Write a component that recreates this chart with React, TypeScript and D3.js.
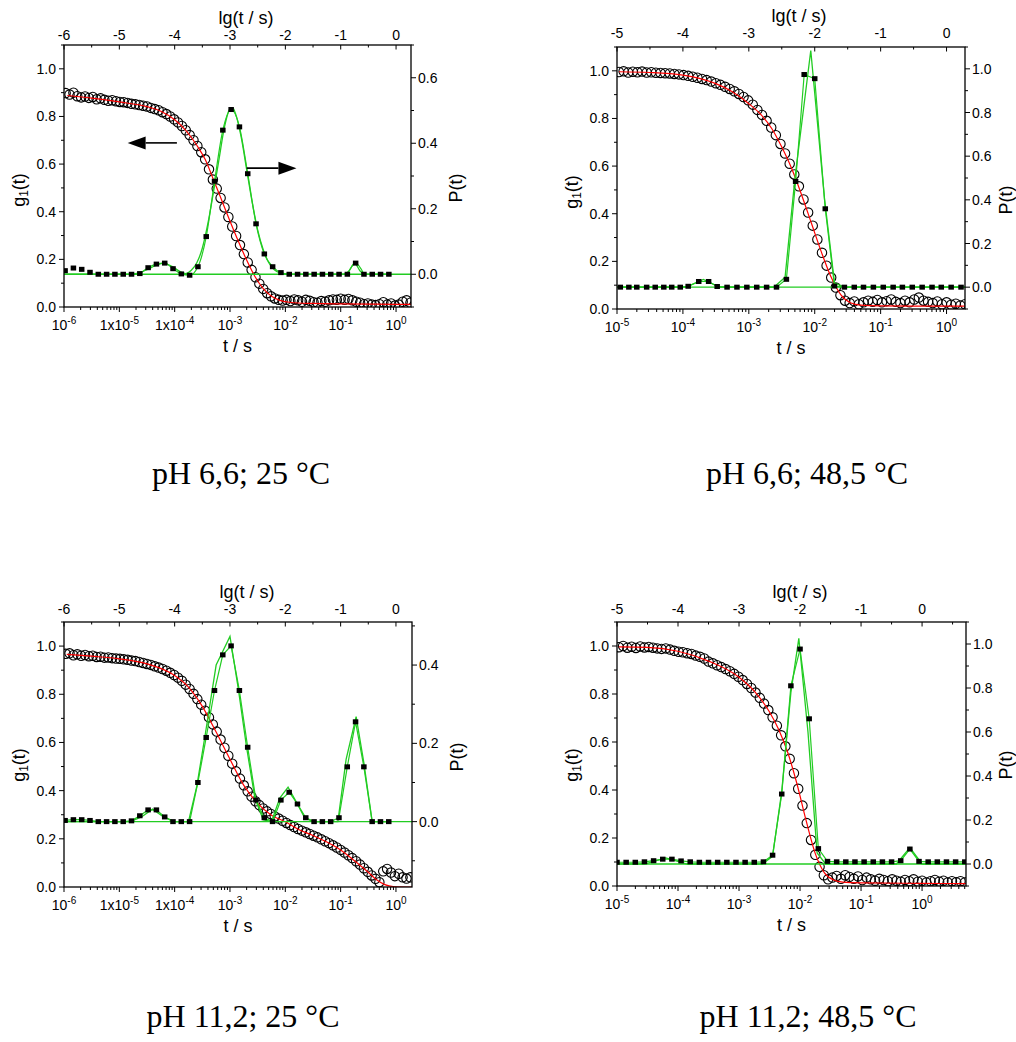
import React from "react";
import * as d3 from "d3";

// ---------- correlator channel times, lg(t / s) ----------
const LG_25 = [-5.97,-5.90,-5.83,-5.76,-5.69,-5.62,-5.55,-5.48,-5.41,-5.34,-5.27,-5.20,-5.13,-5.06,-4.99,-4.92,-4.85,-4.78,-4.71,-4.64,-4.57,-4.50,-4.43,-4.36,-4.29,-4.22,-4.15,-4.08,-4.01,-3.94,-3.87,-3.80,-3.73,-3.66,-3.59,-3.52,-3.45,-3.38,-3.31,-3.24,-3.17,-3.10,-3.03,-2.96,-2.89,-2.82,-2.75,-2.68,-2.61,-2.54,-2.47,-2.40,-2.33,-2.26,-2.19,-2.12,-2.05,-1.98,-1.91,-1.84,-1.77,-1.70,-1.63,-1.56,-1.49,-1.42,-1.35,-1.28,-1.21,-1.14,-1.07,-1.00,-0.93,-0.86,-0.79,-0.72,-0.65,-0.58,-0.51,-0.44,-0.37,-0.30,-0.23,-0.16,-0.09,-0.02,0.05,0.12,0.19,0.26];
const LG_48 = [-4.97,-4.90,-4.83,-4.76,-4.69,-4.62,-4.55,-4.48,-4.41,-4.34,-4.27,-4.20,-4.13,-4.06,-3.99,-3.92,-3.85,-3.78,-3.71,-3.64,-3.57,-3.50,-3.43,-3.36,-3.29,-3.22,-3.15,-3.08,-3.01,-2.94,-2.87,-2.80,-2.73,-2.66,-2.59,-2.52,-2.45,-2.38,-2.31,-2.24,-2.17,-2.10,-2.03,-1.96,-1.89,-1.82,-1.75,-1.68,-1.61,-1.54,-1.47,-1.40,-1.33,-1.26,-1.19,-1.12,-1.05,-0.98,-0.91,-0.84,-0.77,-0.70,-0.63,-0.56,-0.49,-0.42,-0.35,-0.28,-0.21,-0.14,-0.07,0.00,0.07,0.14,0.21,0.28,0.35,0.42,0.49,0.56,0.63,0.70];

// ---------- g1(t) data (open circles) ----------
const G1_P1 = [.898,.892,.900,.885,.880,.884,.878,.882,.872,.876,.870,.866,.868,.864,.861,.860,.857,.853,.851,.848,.845,.842,.836,.831,.826,.818,.810,.800,.788,.775,.760,.742,.722,.700,.676,.650,.620,.578,.535,.497,.458,.418,.378,.338,.298,.260,.222,.187,.156,.125,.098,.076,.058,.045,.036,.030,.027,.030,.025,.032,.028,.022,.030,.026,.020,.018,.025,.022,.028,.032,.030,.035,.030,.034,.028,.022,.018,.012,.015,.010,.008,.012,.020,.010,.015,.006,.010,.022,.028,.018];
const G1_P2 = [.995,.998,.993,.996,.994,.997,.993,.994,.992,.991,.990,.989,.987,.985,.982,.979,.975,.971,.966,.961,.955,.948,.941,.933,.924,.914,.903,.890,.876,.858,.836,.815,.790,.762,.730,.693,.653,.610,.565,.515,.460,.405,.350,.292,.236,.182,.132,.090,.058,.035,.025,.032,.020,.028,.035,.030,.038,.028,.033,.040,.030,.025,.035,.028,.040,.048,.035,.030,.025,.032,.020,.028,.018,.022,.015,.020];
const G1_P3 = [.968,.970,.962,.966,.960,.963,.958,.960,.955,.956,.952,.953,.950,.948,.947,.945,.943,.940,.938,.934,.930,.926,.922,.916,.911,.905,.898,.889,.880,.869,.856,.840,.822,.802,.780,.757,.732,.704,.675,.645,.612,.578,.545,.512,.480,.450,.422,.397,.375,.356,.340,.326,.314,.303,.293,.284,.275,.266,.257,.249,.241,.234,.227,.220,.213,.206,.198,.190,.182,.173,.164,.154,.143,.132,.120,.107,.093,.078,.063,.048,.034,.020,.065,.075,.060,.045,.055,.040,.035,.040];
const G1_P4 = [.995,1.000,.993,.997,.992,.998,.994,.996,.993,.990,.988,.990,.985,.980,.976,.974,.970,.967,.960,.955,.948,.935,.928,.920,.912,.904,.895,.884,.872,.858,.842,.825,.806,.784,.760,.733,.703,.668,.628,.582,.530,.470,.405,.335,.262,.192,.130,.080,.045,.028,.035,.042,.030,.045,.038,.030,.040,.025,.035,.028,.022,.030,.025,.020,.028,.022,.018,.025,.020,.028,.018,.022,.015,.020,.025,.018,.022,.015,.020,.016,.020,.015];

// ---------- g1 fits (red) [lg t, g1] ----------
const FIT_P1: [number, number][] = [[-5.94,.888],[-5.5,.877],[-5.0,.861],[-4.5,.841],[-4.25,.822],[-4.0,.786],[-3.8,.742],[-3.6,.679],[-3.45,.62],[-3.3,.535],[-3.15,.448],[-3.0,.36],[-2.85,.276],[-2.7,.197],[-2.55,.128],[-2.4,.077],[-2.25,.045],[-2.1,.028],[-1.9,.019],[-1.5,.015],[-1.0,.013],[-0.5,.012],[0.0,.011],[0.27,.011]];
const FIT_P2: [number, number][] = [[-4.97,.996],[-4.5,.993],[-4.0,.982],[-3.75,.968],[-3.5,.946],[-3.25,.912],[-3.0,.862],[-2.83,.82],[-2.65,.757],[-2.5,.68],[-2.35,.59],[-2.2,.48],[-2.05,.36],[-1.9,.24],[-1.75,.133],[-1.6,.058],[-1.45,.025],[-1.3,.016],[-1.0,.013],[-0.5,.012],[0.0,.012],[0.28,.012]];
const FIT_P3: [number, number][] = [[-5.95,.966],[-5.5,.958],[-5.0,.947],[-4.5,.926],[-4.0,.878],[-3.75,.83],[-3.5,.75],[-3.25,.643],[-3.0,.53],[-2.75,.422],[-2.5,.347],[-2.25,.298],[-2.0,.271],[-1.75,.238],[-1.5,.214],[-1.25,.187],[-1.0,.154],[-0.75,.109],[-0.5,.061],[-0.35,.03],[-0.2,.01],[-0.05,.002],[0.29,0]];
const FIT_P4: [number, number][] = [[-4.97,.996],[-4.5,.994],[-4.0,.978],[-3.5,.937],[-3.0,.87],[-2.75,.812],[-2.5,.725],[-2.35,.652],[-2.2,.555],[-2.05,.425],[-1.9,.272],[-1.75,.135],[-1.6,.055],[-1.45,.025],[-1.3,.016],[-1.0,.013],[0.0,.011],[0.72,.01]];

// ---------- P(t) distributions (black squares) ----------
const P_GRID_25 = [-5.98,-5.83,-5.68,-5.53,-5.38,-5.23,-5.08,-4.93,-4.78,-4.63,-4.48,-4.33,-4.18,-4.03,-3.88,-3.73,-3.58,-3.43,-3.28,-3.13,-2.98,-2.83,-2.68,-2.53,-2.38,-2.23,-2.08,-1.93,-1.78,-1.63,-1.48,-1.33,-1.18,-1.03,-0.88,-0.73,-0.58,-0.43,-0.28,-0.13];
const P_P1 = [.011,.019,.015,.006,0,0,0,0,0,.002,.020,.031,.034,.017,.001,-.003,.023,.115,.284,.440,.503,.450,.307,.154,.062,.023,.005,0,0,0,0,0,0,0,0,.034,0,0,0,0];
const P_P3 = [.003,.005,.005,.003,0,0,0,0,.002,.015,.030,.030,.012,0,0,0,.100,.215,.335,.426,.449,.335,.190,.055,.010,0,.055,.075,.045,.010,0,0,0,.010,.140,.255,.140,0,0,0];
const P_GRID_P2 = [-4.95,-4.82,-4.70,-4.55,-4.42,-4.29,-4.17,-4.04,-3.92,-3.76,-3.61,-3.48,-3.33,-3.18,-3.03,-2.88,-2.73,-2.58,-2.43,-2.29,-2.16,-2.00,-1.84,-1.70,-1.55,-1.40,-1.26,-1.11,-0.96,-0.81,-0.67,-0.52,-0.37,-0.22,-0.08,0.07,0.22];
const P_P2 = [0,0,0,0,0,0,0,0,.004,.026,.026,.003,0,0,0,0,0,0,.036,.484,.974,.955,.359,.005,0,0,0,0,0,0,0,0,0,0,0,0,0];
const P_GRID_P4 = [-5.00,-4.85,-4.70,-4.55,-4.40,-4.25,-4.10,-3.95,-3.80,-3.65,-3.50,-3.35,-3.20,-3.05,-2.90,-2.75,-2.60,-2.45,-2.30,-2.15,-2.00,-1.85,-1.70,-1.55,-1.40,-1.25,-1.10,-0.95,-0.80,-0.65,-0.50,-0.35,-0.20,-0.05,0.10,0.25,0.40,0.55,0.70];
const P_P4 = [.008,.008,.008,.010,.015,.022,.022,.014,.010,.008,.008,.008,.008,.008,.008,.008,.010,.040,.318,.810,.977,.660,.070,.012,.010,.010,.010,.010,.010,.010,.010,.015,.068,.012,.010,.010,.010,.010,.010];

// ---------- P(t) fits (green) [lg t, P] ----------
const PFIT_P1: [number, number][] = [[-6,0],[-4.8,0],[-4.65,.004],[-4.5,.014],[-4.35,.026],[-4.2,.034],[-4.05,.024],[-3.9,.008],[-3.8,.002],[-3.7,.012],[-3.6,.035],[-3.5,.08],[-3.4,.155],[-3.3,.25],[-3.2,.35],[-3.1,.45],[-3.0,.505],[-2.95,.508],[-2.9,.49],[-2.8,.42],[-2.7,.32],[-2.6,.22],[-2.5,.135],[-2.4,.075],[-2.3,.035],[-2.2,.014],[-2.1,.004],[-2.0,0],[-0.95,0],[-0.85,.01],[-0.75,.034],[-0.65,.01],[-0.55,0],[-0.13,0]];
const PFIT_P2: [number, number][] = [[-5,0],[-3.95,0],[-3.69,.035],[-3.45,0],[-2.62,0],[-2.45,.045],[-2.3,.5],[-2.06,1.084],[-1.85,.4],[-1.7,.02],[-1.55,0],[0.28,0]];
const PFIT_P3: [number, number][] = [[-6,0],[-4.8,0],[-4.6,.012],[-4.4,.032],[-4.2,.012],[-4.0,0],[-3.75,0],[-3.6,.09],[-3.45,.22],[-3.25,.40],[-3.0,.473],[-2.85,.34],[-2.7,.19],[-2.55,.06],[-2.4,.005],[-2.25,0],[-2.1,.06],[-1.95,.088],[-1.8,.05],[-1.65,.01],[-1.5,0],[-1.05,0],[-0.9,.16],[-0.72,.268],[-0.58,.15],[-0.43,0],[-0.13,0]];
const PFIT_P4: [number, number][] = [[-5,0],[-4.55,0],[-4.2,.028],[-3.85,0],[-2.62,0],[-2.45,.035],[-2.3,.33],[-2.15,.78],[-2.02,1.026],[-1.87,.6],[-1.72,.05],[-1.58,0],[-0.42,0],[-0.2,.075],[0.0,0],[0.72,0]];

// ---------- axes ----------
const LEFT_TICKS = [0, 0.2, 0.4, 0.6, 0.8, 1.0];
const RIGHT_TICKS_P1 = [0, 0.2, 0.4, 0.6];
const RIGHT_TICKS_P3 = [0, 0.2, 0.4];
const RIGHT_TICKS_48 = [0, 0.2, 0.4, 0.6, 0.8, 1.0];
const TOP_TICKS_25 = [-6, -5, -4, -3, -2, -1, 0];
const TOP_TICKS_48 = [-5, -4, -3, -2, -1, 0];
const BOTTOM_25: [number, string][] = [[-6, ""], [-5, "1x"], [-4, "1x"], [-3, ""], [-2, ""], [-1, ""], [0, ""]];
const BOTTOM_48: [number, string][] = [[-5, ""], [-4, ""], [-3, ""], [-2, ""], [-1, ""], [0, ""]];
const CAPTIONS = ["pH 6,6; 25 °C", "pH 6,6; 48,5 °C", "pH 11,2; 25 °C", "pH 11,2; 48,5 °C"];
const ARROWS_P1: [[number, number], [number, number]][] = [[[-3.96, 0.689], [-4.85, 0.689]], [[-2.70, 0.583], [-1.80, 0.583]]];

const SANS = "'Liberation Sans', Arial, sans-serif";
const SERIF = "'Liberation Serif', 'Times New Roman', serif";
const GREEN = "#22cc22";

type Cfg = {
  id: string; left: number; right: number; top: number; bottom: number;
  xDomain: [number, number]; yR: [number, number]; rightTicks: number[];
  topTicks: number[]; bottomLabels: [number, string][];
  lg: number[]; g1: number[]; fit: [number, number][];
  pLg: number[]; p: number[]; pFit: [number, number][]; smooth: boolean;
  links: [number, number][];
  topLab: number; titleY: number; titleX: number; g1X: number; g1Y: number; pX: number; pY: number;
  caption: string; capX: number; capY: number; arrows?: [[number, number], [number, number]][];
};

function Panel({ c }: { c: Cfg }) {
  const x = d3.scaleLinear().domain(c.xDomain).range([c.left, c.right]);
  const yL = d3.scaleLinear().domain([0, 1.1]).range([c.bottom, c.top]);
  const yR = d3.scaleLinear().domain(c.yR).range([c.bottom, c.top]);
  const [x0, x1] = c.xDomain;
  const logTicks: { v: number; major: boolean }[] = [];
  for (let d = Math.floor(x0); d <= Math.ceil(x1); d++) {
    for (let k = 1; k <= 9; k++) {
      const v = d + Math.log10(k);
      if (v >= x0 - 1e-9 && v <= x1 + 1e-9) logTicks.push({ v, major: k === 1 });
    }
  }
  const topMinor = d3.range(Math.ceil(x0 * 2) / 2, x1 + 1e-9, 0.5);
  const leftMinor = d3.range(0, 1.1 + 1e-9, 0.1);
  const rStep = 0.1;
  const rightMinor = d3.range(Math.ceil(c.yR[0] / rStep - 1e-9) * rStep, c.yR[1] + 1e-9, rStep);

  const fitLine = d3.line<[number, number]>().x(d => x(d[0])).y(d => yL(d[1])).curve(d3.curveMonotoneX);
  const pFitLine = d3.line<[number, number]>().x(d => x(d[0])).y(d => yR(d[1]))
    .curve(c.smooth ? d3.curveMonotoneX : d3.curveLinear);
  const squares: [number, number][] = c.pLg.map((l, i) => [l, c.p[i]]);
  const circles = c.lg.slice(0, c.g1.length).map((l, i) => [l, c.g1[i]]);
  const clip = `clip-${c.id}`;
  const W = 5.5, H = 5;
  const lab = { fontFamily: SANS, fontSize: 14, fill: "#000" } as const;
  const ttl = { fontFamily: SANS, fontSize: 18, fill: "#000" } as const;

  return (
    <g>
      <defs>
        <clipPath id={clip}>
          <rect x={c.left} y={c.top} width={c.right - c.left} height={c.bottom - c.top} />
        </clipPath>
      </defs>
      <g clipPath={`url(#${clip})`}>
        {circles.map((d, i) => (
          <circle key={i} cx={x(d[0])} cy={yL(d[1])} r={4.7} fill="none" stroke="#000" strokeWidth={1.1} />
        ))}
        <path d={fitLine(c.fit) || ""} fill="none" stroke="#ff0000" strokeWidth={1.2} />
        <line x1={c.left} x2={c.right} y1={yR(0)} y2={yR(0)} stroke={GREEN} strokeWidth={1.3} />
        <path d={pFitLine(c.pFit) || ""} fill="none" stroke={GREEN} strokeWidth={1.3} />
        {c.links.map(([a, b], i) => (
          <path key={i} d={pFitLine(squares.slice(a, b + 1)) || ""} fill="none" stroke={GREEN} strokeWidth={1.2} />
        ))}
        {squares.map((d, i) => (
          <rect key={i} x={x(d[0]) - W / 2} y={yR(d[1]) - H / 2} width={W} height={H} fill="#000" />
        ))}
      </g>
      {(c.arrows || []).map(([from, to], i) => {
        const fx = x(from[0]), fy = yL(from[1]), tx = x(to[0]), ty = yL(to[1]);
        const dir = Math.sign(tx - fx);
        const hl = 18, hw = 6.5;
        return (
          <g key={i}>
            <line x1={fx} y1={fy} x2={tx - dir * hl} y2={ty} stroke="#000" strokeWidth={1.6} />
            <polygon points={`${tx},${ty} ${tx - dir * hl},${ty - hw} ${tx - dir * hl},${ty + hw}`} fill="#000" />
          </g>
        );
      })}
      {/* frame */}
      <rect x={c.left} y={c.top} width={c.right - c.left} height={c.bottom - c.top} fill="none" stroke="#000" strokeWidth={1.3} />
      {/* bottom axis */}
      {logTicks.map((t, i) => (
        <line key={i} x1={x(t.v)} x2={x(t.v)} y1={c.bottom} y2={c.bottom + (t.major ? 5 : 3)} stroke="#000" strokeWidth={1} />
      ))}
      {c.bottomLabels.map(([e, pre], i) => (
        <text key={i} x={x(e)} y={c.bottom + 23} textAnchor="middle" {...lab}>
          {pre}10<tspan fontSize={10} dy={-6}>{String(e)}</tspan>
        </text>
      ))}
      <text x={(c.left + c.right) / 2} y={c.bottom + 45} textAnchor="middle" {...ttl}>t / s</text>
      {/* top axis */}
      {topMinor.map((v, i) => {
        const major = Math.abs(v - Math.round(v)) < 1e-6;
        return <line key={i} x1={x(v)} x2={x(v)} y1={c.top} y2={c.top + (major ? 4.5 : 2.5)} stroke="#000" strokeWidth={1} />;
      })}
      {c.topTicks.map((v, i) => (
        <text key={i} x={x(v)} y={c.topLab} textAnchor="middle" {...lab}>{String(v)}</text>
      ))}
      <text x={c.titleX} y={c.titleY} textAnchor="middle" {...ttl}>lg(t / s)</text>
      {/* left axis */}
      {leftMinor.map((v, i) => {
        const major = Math.abs(v * 5 - Math.round(v * 5)) < 1e-6;
        return <line key={i} x1={c.left - (major ? 5 : 3)} x2={c.left} y1={yL(v)} y2={yL(v)} stroke="#000" strokeWidth={1} />;
      })}
      {LEFT_TICKS.map((v, i) => (
        <text key={i} x={c.left - 8} y={yL(v) + 5} textAnchor="end" {...lab}>{v.toFixed(1)}</text>
      ))}
      <text transform={`translate(${c.g1X},${c.g1Y}) rotate(-90)`} textAnchor="middle" {...ttl}>
        g<tspan fontSize={12} dy={3}>1</tspan><tspan dy={-3}>(t)</tspan>
      </text>
      {/* right axis */}
      {rightMinor.map((v, i) => {
        const major = Math.abs(v * 5 - Math.round(v * 5)) < 1e-6;
        return <line key={i} x1={c.right} x2={c.right + (major ? 5 : 3)} y1={yR(v)} y2={yR(v)} stroke="#000" strokeWidth={1} />;
      })}
      {c.rightTicks.map((v, i) => (
        <text key={i} x={c.right + 7} y={yR(v) + 5} textAnchor="start" {...lab}>{v.toFixed(1)}</text>
      ))}
      <text transform={`translate(${c.pX},${c.pY}) rotate(-90)`} textAnchor="middle" {...ttl}>P(t)</text>
      {/* caption */}
      <text x={c.capX} y={c.capY} textAnchor="middle" fontFamily={SERIF} fontSize={32} fill="#000">{c.caption}</text>
    </g>
  );
}

const PANELS: Cfg[] = [
  {
    id: "a", left: 64, right: 411, top: 45, bottom: 307, xDomain: [-6, 0.27], yR: [-0.1, 0.7], rightTicks: RIGHT_TICKS_P1,
    topTicks: TOP_TICKS_25, bottomLabels: BOTTOM_25, lg: LG_25, g1: G1_P1, fit: FIT_P1,
    pLg: P_GRID_25, p: P_P1, pFit: PFIT_P1, smooth: true, links: [[9, 27], [34, 36]],
    topLab: 40, titleY: 24, titleX: 246, g1X: 25, g1Y: 190, pX: 462, pY: 188,
    caption: CAPTIONS[0], capX: 241, capY: 484, arrows: ARROWS_P1,
  },
  {
    id: "b", left: 617, right: 965, top: 47, bottom: 309, xDomain: [-5, 0.28], yR: [-0.1, 1.1], rightTicks: RIGHT_TICKS_48,
    topTicks: TOP_TICKS_48, bottomLabels: BOTTOM_48, lg: LG_48, g1: G1_P2, fit: FIT_P2,
    pLg: P_GRID_P2, p: P_P2, pFit: PFIT_P2, smooth: false, links: [[0, 36]],
    topLab: 38, titleY: 22, titleX: 799, g1X: 578, g1Y: 192, pX: 1012, pY: 200,
    caption: CAPTIONS[1], capX: 807, capY: 484,
  },
  {
    id: "c", left: 64, right: 412, top: 622, bottom: 887, xDomain: [-6, 0.29], yR: [-0.167, 0.51], rightTicks: RIGHT_TICKS_P3,
    topTicks: TOP_TICKS_25, bottomLabels: BOTTOM_25, lg: LG_25, g1: G1_P3, fit: FIT_P3,
    pLg: P_GRID_25, p: P_P3, pFit: PFIT_P3, smooth: false, links: [[0, 39]],
    topLab: 614, titleY: 598, titleX: 247, g1X: 25, g1Y: 765, pX: 463, pY: 757,
    caption: CAPTIONS[2], capX: 243, capY: 1027,
  },
  {
    id: "d", left: 617, right: 966, top: 622, bottom: 886, xDomain: [-5, 0.72], yR: [-0.1, 1.1], rightTicks: RIGHT_TICKS_48,
    topTicks: TOP_TICKS_48, bottomLabels: BOTTOM_48, lg: LG_48, g1: G1_P4, fit: FIT_P4,
    pLg: P_GRID_P4, p: P_P4, pFit: PFIT_P4, smooth: false, links: [[0, 38]],
    topLab: 614, titleY: 598, titleX: 800, g1X: 578, g1Y: 765, pX: 1012, pY: 765,
    caption: CAPTIONS[3], capX: 808, capY: 1027,
  },
];

export default function App() {
  return (
    <svg width={1016} height={1042} viewBox="0 0 1016 1042"
      style={{ position: "fixed", left: 0, top: 0, background: "#fff", display: "block" }}>
      <rect x={0} y={0} width={1016} height={1042} fill="#fff" />
      {PANELS.map(p => <Panel key={p.id} c={p} />)}
    </svg>
  );
}
